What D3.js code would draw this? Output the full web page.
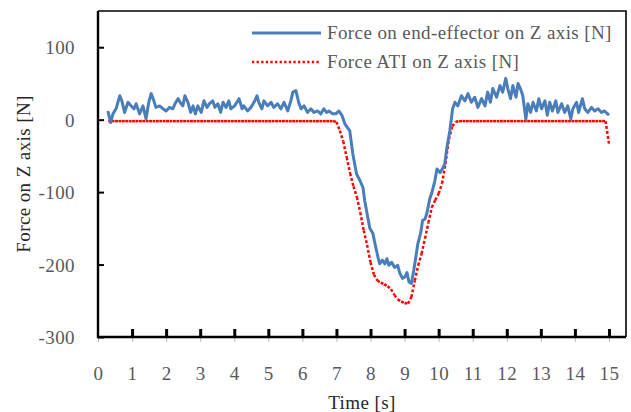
<!DOCTYPE html>
<html>
<head>
<meta charset="utf-8">
<script src="https://cdn.jsdelivr.net/npm/d3@7"></script>
<style>
  html, body { margin: 0; padding: 0; background: #fff; }
  svg { display: block; }
  text { font-family: "Liberation Serif", "Times New Roman", serif; }
</style>
</head>
<body>
<svg id="chart" width="631" height="412"></svg>
<script>
// Force measured at the end-effector (Z axis), time [s] / force [N]
const endTime = [
  0.29, 0.37, 0.44, 0.53, 0.64, 0.70, 0.78, 0.88, 0.97, 1.06, 1.12, 1.22, 1.32, 1.41, 1.49, 1.56,
  1.64, 1.70, 1.81, 1.91, 2.00, 2.10, 2.20, 2.26, 2.35, 2.41, 2.49, 2.55, 2.64, 2.72, 2.79, 2.86,
  2.93, 3.03, 3.11, 3.20, 3.27, 3.37, 3.43, 3.52, 3.60, 3.67, 3.76, 3.84, 3.90, 4.01, 4.14, 4.23,
  4.28, 4.39, 4.49, 4.58, 4.67, 4.72, 4.81, 4.87, 4.98, 5.08, 5.16, 5.27, 5.37, 5.46, 5.57, 5.66,
  5.72, 5.81, 5.89, 5.96, 6.05, 6.15, 6.25, 6.34, 6.45, 6.54, 6.63, 6.71, 6.78, 6.89, 6.98, 7.07,
  7.16, 7.25, 7.39, 7.44, 7.48, 7.59, 7.69, 7.78, 7.83, 7.92, 7.98, 8.07, 8.13, 8.22, 8.27, 8.35,
  8.42, 8.48, 8.54, 8.62, 8.71, 8.80, 8.86, 8.94, 9.01, 9.07, 9.13, 9.20, 9.27, 9.33, 9.39, 9.47,
  9.53, 9.60, 9.65, 9.74, 9.80, 9.89, 9.95, 10.04, 10.11, 10.18, 10.24, 10.33, 10.41, 10.48, 10.56, 10.67,
  10.77, 10.86, 10.96, 11.06, 11.15, 11.26, 11.36, 11.44, 11.52, 11.59, 11.70, 11.80, 11.88, 11.97, 12.03, 12.11,
  12.18, 12.27, 12.33, 12.40, 12.47, 12.56, 12.62, 12.70, 12.77, 12.87, 12.94, 13.02, 13.12, 13.19, 13.26, 13.34,
  13.44, 13.50, 13.61, 13.70, 13.79, 13.88, 13.94, 14.05, 14.11, 14.22, 14.29, 14.38, 14.49, 14.58, 14.68, 14.78,
  14.87, 14.96, 15.00
];
const endForce = [
  12, -4, 8, 15, 33, 26, 10, 24, 19, 15, 22, 8, 19, 1, 24, 36,
  26, 17, 19, 15, 12, 17, 15, 22, 29, 24, 19, 33, 24, 10, 19, 8,
  19, 10, 26, 17, 22, 26, 17, 22, 10, 24, 17, 26, 15, 19, 29, 15,
  19, 12, 17, 24, 33, 24, 15, 26, 19, 24, 17, 22, 15, 24, 12, 26,
  38, 40, 24, 15, 19, 10, 15, 10, 12, 8, 15, 10, 12, 8, 8, 12,
  6, -6, -15, -33, -47, -75, -84, -94, -112, -135, -150, -157, -171, -190, -199, -194,
  -199, -192, -201, -197, -204, -201, -212, -219, -217, -211, -224, -226, -208, -190, -171, -157,
  -139, -137, -130, -109, -101, -84, -68, -73, -68, -61, -39, -15, 15, 24, 19, 33,
  26, 36, 24, 31, 17, 29, 19, 38, 24, 43, 31, 47, 38, 57, 43, 29,
  47, 31, 50, 43, 33, 1, 22, 10, 24, 12, 29, 15, 26, 6, 24, 12,
  26, 10, 22, 10, 19, 1, 15, 24, 10, 29, 15, 10, 17, 12, 15, 10,
  12, 8, 6
];

// Reference force from the ATI sensor (Z axis), sampled every 0.1 s from 0.3 s to 15.0 s
const atiTime = [
  0.3, 0.4, 0.5, 0.6, 0.7, 0.8, 0.9, 1.0, 1.1, 1.2, 1.3, 1.4, 1.5, 1.6, 1.7, 1.8, 1.9, 2.0,
  2.1, 2.2, 2.3, 2.4, 2.5, 2.6, 2.7, 2.8, 2.9, 3.0, 3.1, 3.2, 3.3, 3.4, 3.5, 3.6, 3.7, 3.8,
  3.9, 4.0, 4.1, 4.2, 4.3, 4.4, 4.5, 4.6, 4.7, 4.8, 4.9, 5.0, 5.1, 5.2, 5.3, 5.4, 5.5, 5.6,
  5.7, 5.8, 5.9, 6.0, 6.1, 6.2, 6.3, 6.4, 6.5, 6.6, 6.7, 6.8, 6.9, 7.0, 7.1, 7.2, 7.3, 7.4,
  7.5, 7.6, 7.7, 7.8, 7.9, 8.0, 8.1, 8.2, 8.3, 8.4, 8.5, 8.6, 8.7, 8.8, 8.9, 9.0, 9.1, 9.2,
  9.3, 9.4, 9.5, 9.6, 9.7, 9.8, 9.9, 10.0, 10.1, 10.2, 10.3, 10.4, 10.5, 10.6, 10.7, 10.8, 10.9, 11.0,
  11.1, 11.2, 11.3, 11.4, 11.5, 11.6, 11.7, 11.8, 11.9, 12.0, 12.1, 12.2, 12.3, 12.4, 12.5, 12.6, 12.7, 12.8,
  12.9, 13.0, 13.1, 13.2, 13.3, 13.4, 13.5, 13.6, 13.7, 13.8, 13.9, 14.0, 14.1, 14.2, 14.3, 14.4, 14.5, 14.6,
  14.7, 14.8, 14.9, 15.0
];
const atiForce = [
  -2, -2, -2, -2, -2, -2, -2, -2, -2, -2, -2, -2, -2, -2, -2, -2, -2, -2,
  -2, -2, -2, -2, -2, -2, -2, -2, -2, -2, -2, -2, -2, -2, -2, -2, -2, -2,
  -2, -2, -2, -2, -2, -2, -2, -2, -2, -2, -2, -2, -2, -2, -2, -2, -2, -2,
  -2, -2, -2, -2, -2, -2, -2, -2, -2, -2, -2, -2, -2, -3, -15, -30, -52, -74,
  -92, -107, -128, -153, -173, -197, -214, -222, -225, -227, -230, -234, -242, -248, -251, -253, -254, -245,
  -222, -201, -185, -164, -142, -121, -111, -102, -88, -61, -27, -9, -3, -2, -2, -2, -2, -2,
  -2, -2, -2, -2, -2, -2, -2, -2, -2, -2, -2, -2, -2, -2, -2, -2, -2, -2,
  -2, -2, -2, -2, -2, -2, -2, -2, -2, -2, -2, -2, -2, -2, -2, -2, -2, -2,
  -2, -2, -2, -33
];

const xTicks = [0, 1, 2, 3, 4, 5, 6, 7, 8, 9, 10, 11, 12, 13, 14, 15];
const yTicks = [-300, -200, -100, 0, 100];
const seriesNames = ["Force on end-effector on Z axis [N]", "Force ATI on Z axis [N]"];
const xTitle = "Time [s]";
const yTitle = "Force on Z axis [N]";

const svg = d3.select("#chart");
const plot = { left: 98, right: 626, top: 11, bottom: 337 };

const x = d3.scaleLinear().domain([0, 15.5]).range([plot.left, plot.right]);
const y = d3.scaleLinear().domain([-300, 150]).range([plot.bottom, plot.top]);

const blue = "#4a7ebb";
const red = "#ff0000";
const labelGray = "#595959";
const fontSize = "19px";
const spacing = "0.4px";
const plainNumber = d => String(d);   // hyphen-minus, as in the original figure

// frame (top and right edges of the plot area)
svg.append("path")
  .attr("d", `M${plot.left},${plot.top}H${plot.right}V${plot.bottom}`)
  .attr("fill", "none").attr("stroke", "#000").attr("stroke-width", 1.6);

// x axis: short outer ticks, thick inner ticks, labels
const xOuter = svg.append("g").attr("transform", `translate(0,${plot.bottom})`)
  .call(d3.axisBottom(x).tickValues(xTicks).tickSize(5).tickFormat(""));
xOuter.select(".domain").remove();
xOuter.selectAll(".tick line").attr("stroke", "#a6a6a6").attr("stroke-width", 0.8);

const xInner = svg.append("g").attr("transform", `translate(0,${plot.bottom})`)
  .call(d3.axisBottom(x).tickValues(xTicks.filter(d => d > 0)).tickSize(-8).tickFormat(""));
xInner.select(".domain").remove();
xInner.selectAll(".tick line").attr("stroke", "#000").attr("stroke-width", 3);

const xLabels = svg.append("g").attr("transform", `translate(0,${plot.bottom})`)
  .call(d3.axisBottom(x).tickValues(xTicks).tickSize(0).tickPadding(0).tickFormat(plainNumber));
xLabels.select(".domain").remove();
xLabels.selectAll(".tick text")
  .attr("y", 43).attr("dy", null)
  .attr("fill", labelGray).attr("font-size", fontSize).attr("letter-spacing", spacing)
  .attr("font-family", "Liberation Serif, serif");

// y axis: inner ticks and labels
const yAxis = svg.append("g").attr("transform", `translate(${plot.left},0)`)
  .call(d3.axisLeft(y).tickValues(yTicks).tickSize(-6).tickFormat(plainNumber));
yAxis.select(".domain").remove();
yAxis.selectAll(".tick line").attr("stroke", "#000").attr("stroke-width", 2);
yAxis.selectAll(".tick text")
  .attr("x", -23).attr("dy", "0.34em")
  .attr("fill", labelGray).attr("font-size", fontSize).attr("letter-spacing", spacing)
  .attr("font-family", "Liberation Serif, serif");

// axis lines
svg.append("path")
  .attr("d", `M${plot.left},${plot.top}V${plot.bottom}H${plot.right}`)
  .attr("fill", "none").attr("stroke", "#000").attr("stroke-width", 2.4);

// ATI series: dotted, drawn segment by segment so the dot pattern restarts at each sample
const atiPts = atiTime.map((t, i) => [x(t), y(atiForce[i])]);
svg.append("g").selectAll("line")
  .data(d3.pairs(atiPts))
  .join("line")
  .attr("x1", d => d[0][0]).attr("y1", d => d[0][1])
  .attr("x2", d => d[1][0]).attr("y2", d => d[1][1])
  .attr("stroke", red).attr("stroke-width", 2.5)
  .attr("stroke-dasharray", "2.9 2.1");

// end-effector series
const line = d3.line().x(d => x(d[0])).y(d => y(d[1]));
svg.append("path")
  .datum(endTime.map((t, i) => [t, endForce[i]]))
  .attr("d", line)
  .attr("fill", "none").attr("stroke", blue).attr("stroke-width", 3)
  .attr("stroke-linejoin", "round");

// legend
const legend = svg.append("g");
legend.append("line").attr("x1", 252).attr("x2", 321).attr("y1", 33).attr("y2", 33)
  .attr("stroke", blue).attr("stroke-width", 3);
legend.append("line").attr("x1", 252).attr("x2", 321).attr("y1", 62).attr("y2", 62)
  .attr("stroke", red).attr("stroke-width", 2.5).attr("stroke-dasharray", "2.3 2.3");
legend.selectAll("text.series")
  .data(seriesNames)
  .join("text").attr("class", "series")
  .attr("x", 327).attr("y", (d, i) => 33 + i * 29).attr("dy", "0.34em")
  .attr("fill", labelGray).attr("font-size", fontSize).attr("letter-spacing", spacing)
  .text(d => d);

// axis titles
svg.append("text")
  .attr("x", (plot.left + plot.right) / 2).attr("y", 409)
  .attr("text-anchor", "middle").attr("fill", "#262626")
  .attr("font-size", fontSize).attr("letter-spacing", spacing)
  .text(xTitle);
svg.append("text")
  .attr("transform", `translate(30,${(plot.top + plot.bottom) / 2}) rotate(-90)`)
  .attr("text-anchor", "middle").attr("fill", "#262626")
  .attr("font-size", fontSize).attr("letter-spacing", spacing)
  .text(yTitle);
</script>
</body>
</html>
